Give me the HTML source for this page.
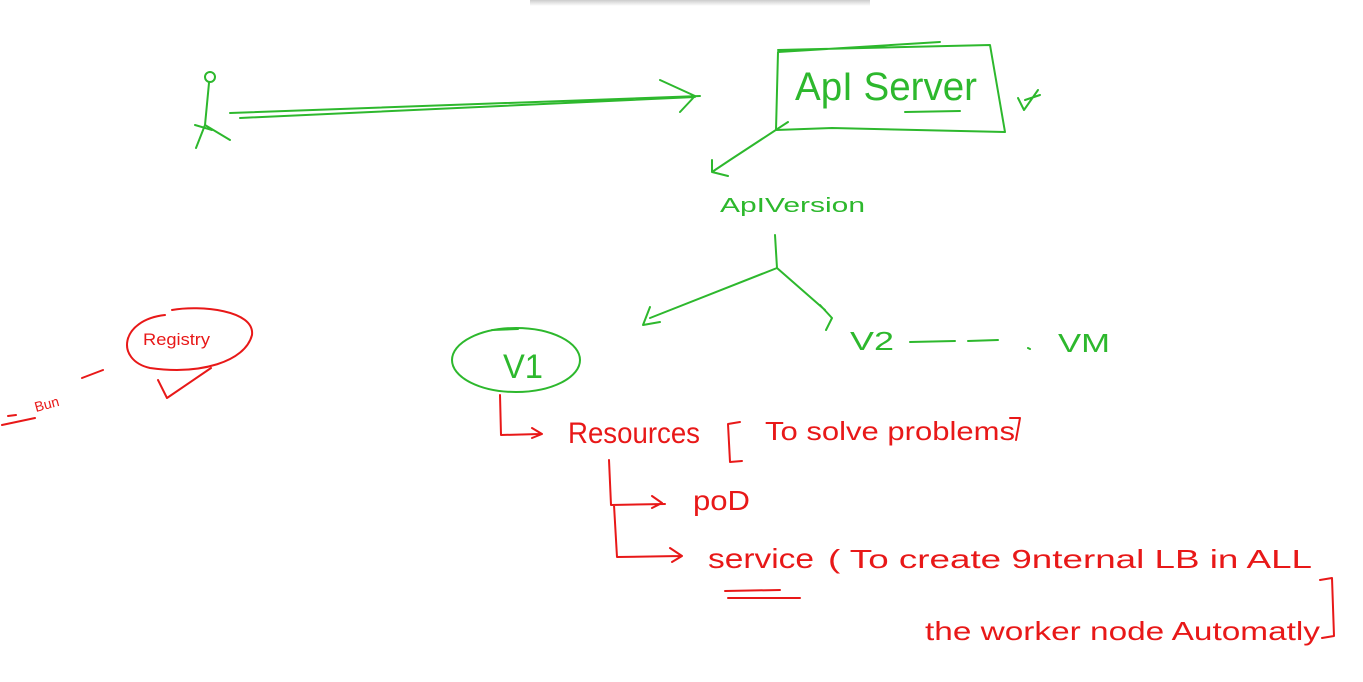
<!DOCTYPE html>
<html><head><meta charset="utf-8"><style>
html,body{margin:0;padding:0;background:#fff;width:1363px;height:682px;overflow:hidden}
svg{display:block}
.g{fill:none;stroke:#2db82d;stroke-width:2;stroke-linecap:round;stroke-linejoin:round}
.r{fill:none;stroke:#e81818;stroke-width:2;stroke-linecap:round;stroke-linejoin:round}
.tg{fill:#2db82d;font-family:"Liberation Sans",sans-serif}
.tr{fill:#e81818;font-family:"Liberation Sans",sans-serif}
</style></head><body>
<svg width="1363" height="682" viewBox="0 0 1363 682">
<defs><linearGradient id="sh" x1="0" y1="0" x2="0" y2="1"><stop offset="0" stop-color="#ccc"/><stop offset="1" stop-color="#fff"/></linearGradient></defs>
<rect x="530" y="0" width="340" height="6" fill="url(#sh)"/>
<!-- stick figure -->
<circle class="g" cx="210" cy="77" r="5"/>
<path class="g" d="M209 83 L205 125 M205 125 L196 148 M205 125 L230 140 M195 125 L212 130"/>
<!-- long arrow -->
<path class="g" d="M230 113 L700 96 M240 118 L695 97 M660 80 L695 96 L680 112"/>
<!-- API server box -->
<path class="g" d="M778 52 L940 42 M778 50 L990 45 L1005 132 L832 128 L776 130 L778 52"/>
<text class="tg" x="795" y="100" font-size="40" textLength="182" lengthAdjust="spacingAndGlyphs">ApI Server</text>
<path class="g" d="M905 112 L960 111"/>
<path class="g" d="M1018 98 L1024 110 L1038 90 M1025 100 L1040 95"/>
<!-- arrow to ApiVersion -->
<path class="g" d="M788 122 L730 160 L712 172 M712 160 L712 172 L728 176"/>
<text class="tg" x="720" y="212" font-size="20" textLength="145" lengthAdjust="spacingAndGlyphs">ApIVersion</text>
<path class="g" d="M775 235 L777 268 M777 268 L650 318 M650 307 L643 325 L660 322 M777 268 L825 310 M820 305 L832 318 L826 330"/>
<text class="tg" x="850" y="350" font-size="26" textLength="44" lengthAdjust="spacingAndGlyphs">V2</text>
<path class="g" d="M910 342 L955 341 M968 341 L998 340 M1028 348 L1030 349"/>
<text class="tg" x="1058" y="352" font-size="26" textLength="52" lengthAdjust="spacingAndGlyphs">VM</text>
<ellipse class="g" cx="516" cy="360" rx="64" ry="32"/>
<path class="g" d="M492 330 L518 329"/>
<text class="tg" x="503" y="378" font-size="34" textLength="40" lengthAdjust="spacingAndGlyphs">V1</text>
<!-- red tree -->
<path class="r" d="M500 395 L501 435 L540 434 M532 428 L542 434 L532 438"/>
<text class="tr" x="568" y="443" font-size="30" textLength="132" lengthAdjust="spacingAndGlyphs">Resources</text>
<path class="r" d="M740 422 L728 424 L730 462 L742 461"/>
<text class="tr" x="765" y="440" font-size="26" textLength="250" lengthAdjust="spacingAndGlyphs">To solve  problems</text>
<path class="r" d="M1010 418 L1020 418 L1016 440"/>
<path class="r" d="M609 460 L611 505 L665 504 M652 496 L662 503 L652 508 M614 505 L617 557 L680 556 M670 548 L682 556 L672 562"/>
<text class="tr" x="693" y="510" font-size="28" textLength="57" lengthAdjust="spacingAndGlyphs">poD</text>
<text class="tr" x="708" y="568" font-size="28" textLength="106" lengthAdjust="spacingAndGlyphs">service</text>
<path class="r" d="M725 591 L780 590 M728 598 L800 598"/>
<text class="tr" x="828" y="568" font-size="26" textLength="484" lengthAdjust="spacingAndGlyphs">( To create  9nternal  LB  in  ALL</text>
<text class="tr" x="925" y="640" font-size="26" textLength="395" lengthAdjust="spacingAndGlyphs">the  worker node  Automatly</text>
<path class="r" d="M1320 580 L1332 578 L1334 636 L1322 638"/>
<!-- registry -->
<path class="r" d="M165 315 C120 320 115 360 150 368 C200 375 245 362 252 335 C255 310 200 305 172 310"/>
<text class="tr" x="143" y="345" font-size="17" textLength="67" lengthAdjust="spacingAndGlyphs">Registry</text>
<path class="r" d="M158 380 L167 398 L211 368"/>
<path class="r" d="M82 378 L103 370 M2 425 L35 418 M8 416 L16 415"/>
<text class="tr" x="36" y="412" font-size="14" transform="rotate(-15 36 412)">Bun</text>
</svg>
</body></html>
